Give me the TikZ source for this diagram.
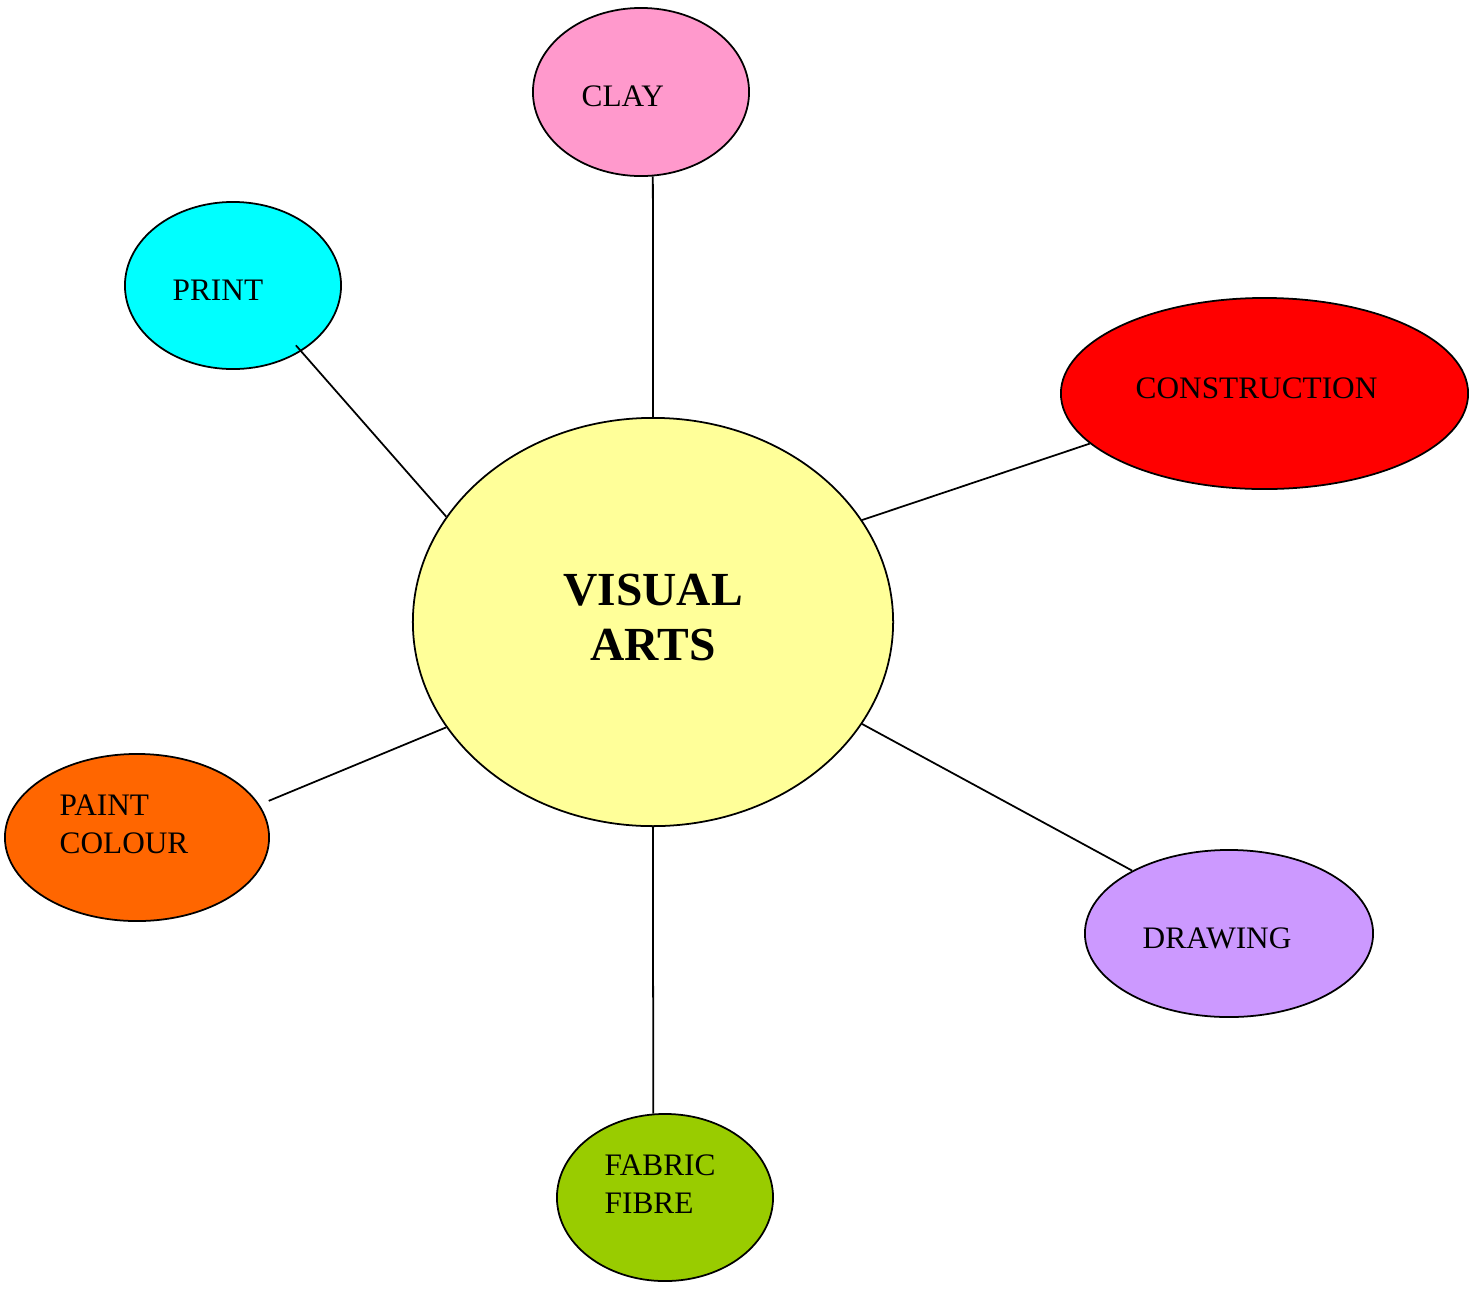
\documentclass[tikz,border=0pt]{standalone}
\usepackage{fontspec}
\setmainfont{Liberation Serif}
\usetikzlibrary{shapes.geometric}

\definecolor{hubyellow}{HTML}{FFFF99}
\definecolor{claypink}{HTML}{FF99CC}
\definecolor{printcyan}{HTML}{00FFFF}
\definecolor{constred}{HTML}{FF0000}
\definecolor{paintorange}{HTML}{FF6600}
\definecolor{drawlilac}{HTML}{CC99FF}
\definecolor{fabricgreen}{HTML}{99CC00}

\begin{document}
\begin{tikzpicture}[x=0.01cm,y=-0.01cm,
  blob/.style={ellipse,draw=black,line width=0.5pt,inner sep=0pt},
  lbl/.style={anchor=base west,inner sep=0pt,font=\fontsize{8.9}{10.8}\selectfont,align=left},
  spoke/.style={line width=0.5pt}]
\useasboundingbox (0,0) rectangle (1469,1290);

\node[blob,fill=hubyellow,minimum width=4.8cm,minimum height=4.08cm] (hub) at (653,622) {};
\node[blob,fill=claypink,minimum width=2.16cm,minimum height=1.68cm] (clay) at (641,92) {};
\node[blob,fill=printcyan,minimum width=2.16cm,minimum height=1.67cm] (print) at (233,285.5) {};
\node[blob,fill=constred,minimum width=4.07cm,minimum height=1.91cm] (constr) at (1264.5,393.5) {};
\node[blob,fill=paintorange,minimum width=2.64cm,minimum height=1.67cm] (paint) at (137,837.5) {};
\node[blob,fill=drawlilac,minimum width=2.88cm,minimum height=1.67cm] (drawing) at (1229,933.5) {};
\node[blob,fill=fabricgreen,minimum width=2.16cm,minimum height=1.67cm] (fabric) at (665,1197.5) {};

% labels (multi-line ones sit on the baseline of their last line)
\node[anchor=base,inner sep=0pt,align=center,font=\fontsize{13.5}{15.6}\selectfont\bfseries] (hubtxt) at (653,660) {VISUAL\\ARTS};
\node[lbl] (claytxt) at (581,106) {CLAY};
\node[lbl] (printtxt) at (172,300) {PRINT};
\node[lbl] (constrtxt) at (1135,398) {CONSTRUCTION};
\node[lbl] (painttxt) at (59,853) {PAINT\\COLOUR};
\node[lbl] (drawingtxt) at (1142,948) {DRAWING};
\node[lbl] (fabrictxt) at (604,1213) {FABRIC\\FIBRE};

% spokes
\draw[spoke] (hub.90) -- (clay.-82);
\draw[spoke,shorten >=-0.08cm] (hub.153.2) -- (print.-44);
\draw[spoke] (hub.26.7) -- (constr.-164.9);
\draw[spoke,shorten >=0.1cm] (hub.-153.2) -- (paint.15.3);
\draw[spoke] (hub.-26.7) -- (drawing.147.9);
\draw[spoke] (hub.270) -- (fabric.98);
\end{tikzpicture}
\end{document}
